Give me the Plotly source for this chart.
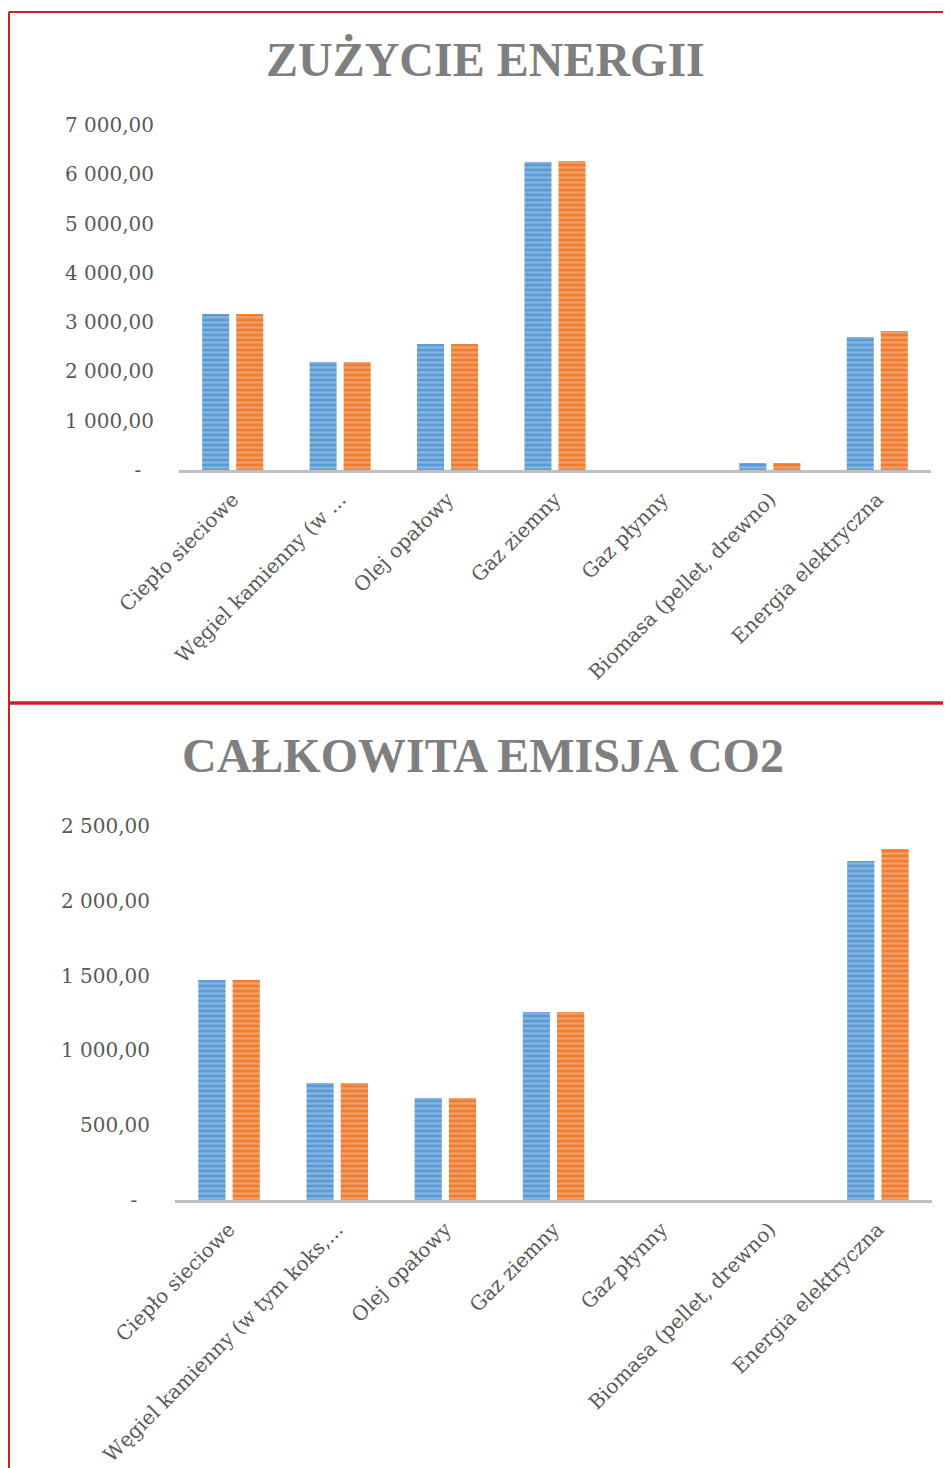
import plotly.graph_objects as go
from plotly.subplots import make_subplots

# ---- data ----
cats_energy = ["Ciepło sieciowe", "Węgiel kamienny (w ...", "Olej opałowy", "Gaz ziemny",
               "Gaz płynny", "Biomasa (pellet, drewno)", "Energia elektryczna"]
cats_co2 = ["Ciepło sieciowe", "Węgiel kamienny (w tym koks,...", "Olej opałowy", "Gaz ziemny",
            "Gaz płynny", "Biomasa (pellet, drewno)", "Energia elektryczna"]
energy_a = [3165, 2190, 2556, 6247, 0, 142, 2698]
energy_b = [3165, 2190, 2556, 6268, 0, 142, 2820]
co2_a = [1470, 782, 682, 1257, 0, 0, 2266]
co2_b = [1470, 782, 682, 1257, 0, 0, 2346]
energy_ticks = [0, 1000, 2000, 3000, 4000, 5000, 6000, 7000]
energy_ticktext = ["-\u00a0\u00a0", "1 000,00", "2 000,00", "3 000,00", "4 000,00", "5 000,00", "6 000,00", "7 000,00"]
co2_ticks = [0, 500, 1000, 1500, 2000, 2500]
co2_ticktext = ["-\u00a0\u00a0", "500,00", "1 000,00", "1 500,00", "2 000,00", "2 500,00"]
title_energy = "ZUŻYCIE ENERGII"
title_co2 = "CAŁKOWITA EMISJA CO2"

# page is offset by the default 8px body margin
OFF = 8
W, H = 951 - OFF, 1468 - OFF
BLUE, BLUE_L = "#5B9BD5", "#B4D0EE"
ORANGE, ORANGE_L = "#ED7D31", "#F8C4A0"
FONT = "DejaVu Serif"
TFONT = "Liberation Serif"
TICKC = "#595959"
TITLEC = "#7F7F7F"

def px(x):
    return (x - OFF) / W

def py(y):
    return 1 - (y - OFF) / H

fig = make_subplots(rows=2, cols=1)

def bar(x, y, col, light, row):
    fig.add_trace(go.Bar(
        x=x, y=y, marker=dict(color=col, line=dict(width=0),
                              pattern=dict(shape="-", fillmode="overlay", fgcolor=light,
                                           size=5, solidity=0.45)),
        showlegend=False), row=row, col=1)

bar(cats_energy, energy_a, BLUE, BLUE_L, 1)
bar(cats_energy, energy_b, ORANGE, ORANGE_L, 1)
bar(cats_co2, co2_a, BLUE, BLUE_L, 2)
bar(cats_co2, co2_b, ORANGE, ORANGE_L, 2)

xcommon = dict(tickangle=-45, showline=True, linecolor="#BFBFBF", linewidth=2.5,
               showgrid=False, ticks="", automargin=False,
               tickfont=dict(family=FONT, size=20, color=TICKC),
               ticklabelstandoff=7)
fig.update_xaxes(domain=[px(179), px(931)], row=1, col=1, **xcommon)
fig.update_xaxes(domain=[px(175), px(932)], row=2, col=1, **xcommon)

ycommon = dict(showgrid=False, zeroline=False, showline=False, ticks="", automargin=False,
               tickfont=dict(family=FONT, size=20, color=TICKC), ticklabelstandoff=24)
fig.update_yaxes(domain=[py(470), py(125)], range=[0, 7000], tickvals=energy_ticks,
                 ticktext=energy_ticktext, row=1, col=1, **ycommon)
fig.update_yaxes(domain=[py(1200), py(826)], range=[0, 2500], tickvals=co2_ticks,
                 ticktext=co2_ticktext, row=2, col=1, **ycommon)

fig.add_annotation(text=title_energy, x=px(485), y=py(60), xref="paper", yref="paper",
                   xanchor="center", yanchor="middle", showarrow=False,
                   font=dict(family=TFONT, size=48, color=TITLEC, weight="bold"))
fig.add_annotation(text=title_co2, x=px(483), y=py(755), xref="paper", yref="paper",
                   xanchor="center", yanchor="middle", showarrow=False,
                   font=dict(family=TFONT, size=48, color=TITLEC, weight="bold"))

RED = "#C8202A"
for s in [dict(x0=px(9), x1=1, y0=py(12), y1=py(12), w=2),
          dict(x0=px(9), x1=px(9), y0=py(12), y1=0, w=2),
          dict(x0=px(9), x1=1, y0=py(703), y1=py(703), w=3.5)]:
    fig.add_shape(type="line", xref="paper", yref="paper", x0=s["x0"], x1=s["x1"],
                  y0=s["y0"], y1=s["y1"], line=dict(color=RED, width=s["w"]))

fig.update_layout(width=W, height=H, margin=dict(l=0, r=0, t=0, b=0, pad=0),
                  paper_bgcolor="white", plot_bgcolor="white",
                  barmode="group", bargap=0.366, bargroupgap=0.206)

fig.write_html("out.html")
